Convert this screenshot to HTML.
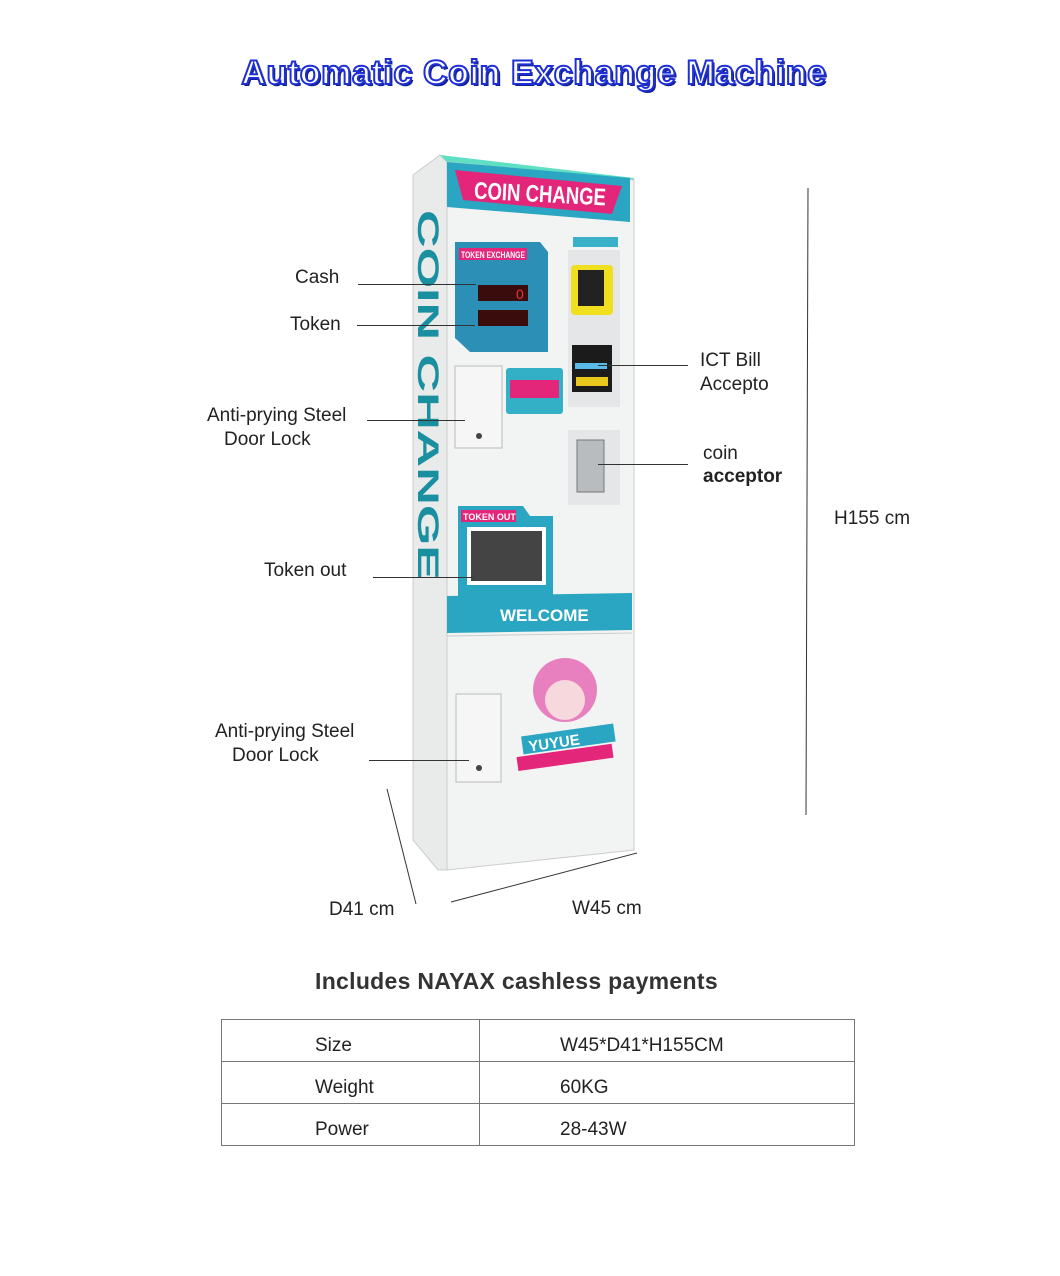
<!DOCTYPE html>
<html><head><meta charset="utf-8"><style>
body{margin:0;background:#fff;}
#p{position:relative;width:1060px;height:1276px;font-family:"Liberation Sans",sans-serif;color:#222;overflow:hidden}
.t{position:absolute;font-size:19px;line-height:24px;white-space:nowrap}
.l{position:absolute;height:1px;background:#333}
h1{position:absolute;left:4px;width:1060px;top:54px;margin:0;text-align:center;font-size:34px;font-weight:900;color:#fff;-webkit-text-stroke:2px #1f2fd6;letter-spacing:0.6px;text-shadow:2px 2px 0 #10208a}
table{position:absolute;left:221px;top:1019px;width:634px;border-collapse:collapse;font-size:19px;table-layout:fixed}
td{border:1px solid #777;height:42px;padding:15px 0 0 0;box-sizing:border-box;vertical-align:top}
td:first-child{width:258px;padding-left:93px}
td:last-child{padding-left:80px}
</style></head><body><div id="p">
<h1>Automatic Coin Exchange Machine</h1>
<svg width="1060" height="1276" style="position:absolute;left:0;top:0">
<polygon points="413,175 440,155 447,162 447,870 438,870 413,840" fill="#e9eaea" stroke="#ccc"/>
<polygon points="440,155 634,178 634,182 447,162" fill="#5fe0c4"/>
<polygon points="447,162 634,180 634,850 447,870" fill="#f2f3f3" stroke="#ccc"/>
<text x="0" y="0" transform="translate(418,210) rotate(90)" font-family="Liberation Sans" font-weight="900" font-size="30" fill="#1a8fa0" textLength="370" lengthAdjust="spacingAndGlyphs">COIN CHANGE</text>
<polygon points="447,162 630,178 630,222 447,207" fill="#2aa6c3"/>
<polygon points="455,170 622,186 612,214 463,200" fill="#e3267a"/>
<text x="474" y="202" font-family="Liberation Sans" font-weight="900" font-size="24" fill="#fff" textLength="132" lengthAdjust="spacingAndGlyphs" transform="rotate(3 540 195)">COIN CHANGE</text>
<polygon points="455,242 540,242 548,252 548,352 470,352 455,338" fill="#2c8fb5"/>
<rect x="459" y="248" width="68" height="12" fill="#e3267a"/>
<text x="461" y="258" font-size="9" font-weight="bold" fill="#fff" font-family="Liberation Sans" textLength="64" lengthAdjust="spacingAndGlyphs">TOKEN EXCHANGE</text>
<rect x="478" y="285" width="50" height="16" fill="#3a0c0c"/><rect x="478" y="310" width="50" height="16" fill="#3a0c0c"/>
<text x="516" y="299" font-size="14" fill="#e33" font-family="Liberation Sans">0</text>
<rect x="455" y="366" width="47" height="82" fill="#f6f6f6" stroke="#bbb"/><circle cx="479" cy="436" r="3" fill="#444"/>
<rect x="506" y="368" width="57" height="46" rx="3" fill="#34b0c6"/><rect x="510" y="380" width="49" height="18" fill="#e3267a"/>
<rect x="568" y="250" width="52" height="157" fill="#e5e6e7"/>
<rect x="573" y="237" width="45" height="10" fill="#3ab1c8"/>
<rect x="571" y="265" width="42" height="50" rx="4" fill="#f0df1e"/><rect x="578" y="270" width="26" height="36" fill="#222"/>
<rect x="572" y="345" width="40" height="47" fill="#1b1b1b"/><rect x="575" y="363" width="32" height="6" fill="#5bbbe8"/><rect x="576" y="377" width="32" height="9" fill="#e8c81c"/>
<rect x="568" y="430" width="52" height="75" fill="#e5e6e7"/>
<rect x="577" y="440" width="27" height="52" fill="#b9bcbf" stroke="#777"/>
<polygon points="458,506 523,506 530,516 553,516 553,598 458,598" fill="#2aa6c3"/>
<rect x="461" y="510" width="55" height="12" fill="#e3267a"/><text x="463" y="520" font-size="9" font-weight="bold" fill="#fff" font-family="Liberation Sans">TOKEN OUT</text>
<rect x="467" y="527" width="79" height="58" fill="#fff"/><rect x="471" y="531" width="71" height="50" fill="#444"/>
<polygon points="447,596 632,593 632,630 447,633" fill="#2aa6c3"/>
<text x="500" y="621" font-family="Liberation Sans" font-weight="bold" font-size="17" fill="#fff">WELCOME</text>
<line x1="447" y1="636" x2="632" y2="633" stroke="#ccc"/>
<rect x="456" y="694" width="45" height="88" fill="#f6f6f6" stroke="#bbb"/><circle cx="479" cy="768" r="3" fill="#444"/>
<circle cx="565" cy="690" r="32" fill="#e880c0"/><circle cx="565" cy="700" r="20" fill="#f6d8dd"/>
<rect x="522" y="730" width="93" height="18" fill="#2aa6c3" transform="rotate(-8 568 740)"/>
<text x="528" y="746" font-family="Liberation Sans" font-weight="bold" font-size="15" fill="#fff" transform="rotate(-8 568 740)">YUYUE</text>
<rect x="517" y="750" width="96" height="14" fill="#e3267a" transform="rotate(-8 568 757)"/>
<line x1="808" y1="188" x2="806" y2="815" stroke="#333"/>
<line x1="387" y1="789" x2="416" y2="904" stroke="#333"/>
<line x1="451" y1="902" x2="637" y2="853" stroke="#333"/>
</svg>
<div class="l" style="left:358px;top:284px;width:118px"></div>
<div class="l" style="left:357px;top:325px;width:118px"></div>
<div class="l" style="left:367px;top:420px;width:98px"></div>
<div class="l" style="left:373px;top:577px;width:100px"></div>
<div class="l" style="left:369px;top:760px;width:100px"></div>
<div class="l" style="left:598px;top:365px;width:90px"></div>
<div class="l" style="left:598px;top:464px;width:90px"></div>
<div class="t" style="left:295px;top:266px">Cash</div>
<div class="t" style="left:290px;top:313px">Token</div>
<div class="t" style="left:207px;top:404px">Anti-prying Steel</div>
<div class="t" style="left:224px;top:428px">Door Lock</div>
<div class="t" style="left:264px;top:559px">Token out</div>
<div class="t" style="left:215px;top:720px">Anti-prying Steel</div>
<div class="t" style="left:232px;top:744px">Door Lock</div>
<div class="t" style="left:700px;top:349px">ICT Bill</div>
<div class="t" style="left:700px;top:373px">Accepto</div>
<div class="t" style="left:703px;top:442px">coin</div>
<div class="t" style="left:703px;top:465px;font-weight:bold">acceptor</div>
<div class="t" style="left:834px;top:507px">H155 cm</div>
<div class="t" style="left:329px;top:898px">D41 cm</div>
<div class="t" style="left:572px;top:897px">W45 cm</div>
<div class="t" style="left:315px;top:969px;font-size:23px;font-weight:bold;color:#333;letter-spacing:0.3px">Includes NAYAX cashless payments</div>
<table><tr><td>Size</td><td>W45*D41*H155CM</td></tr><tr><td>Weight</td><td>60KG</td></tr><tr><td>Power</td><td>28-43W</td></tr></table>
</div></body></html>
